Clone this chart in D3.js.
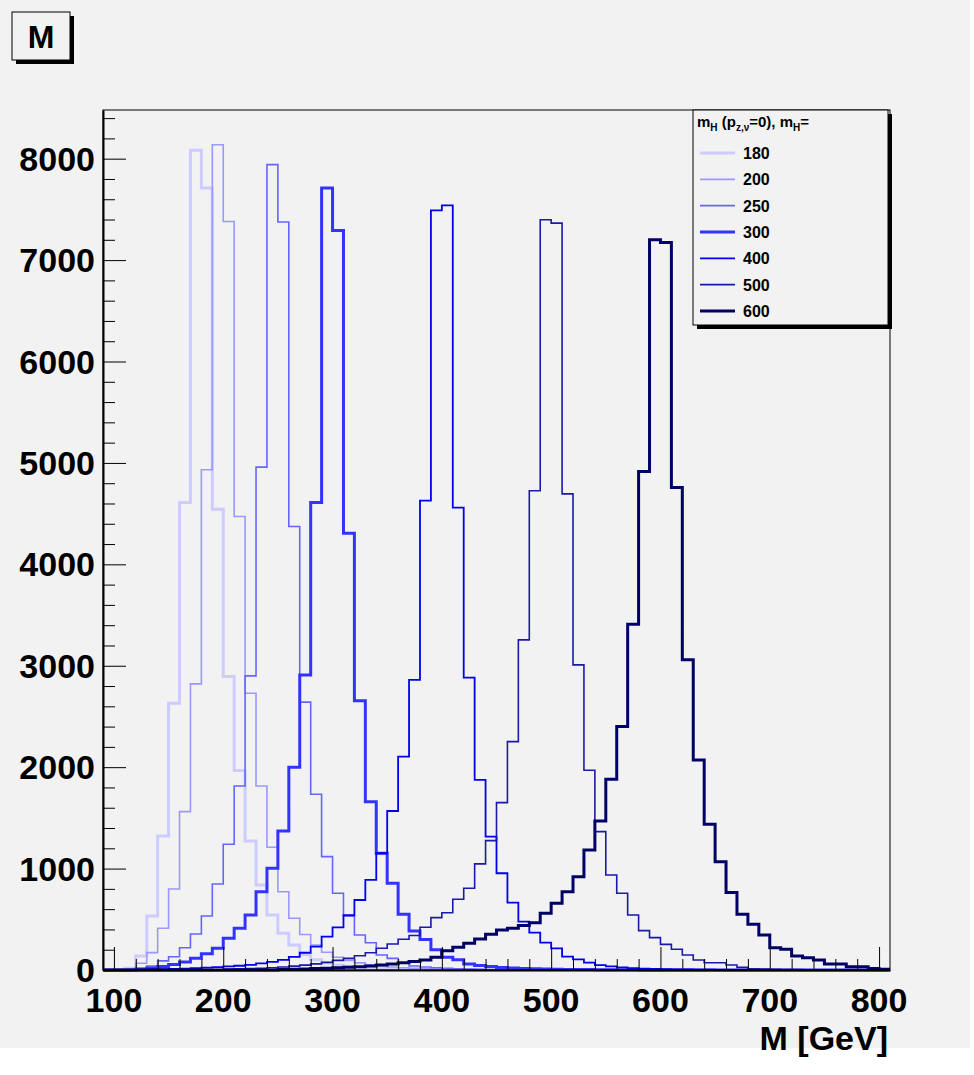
<!DOCTYPE html>
<html>
<head>
<meta charset="utf-8">
<script src="https://cdn.jsdelivr.net/npm/d3@7"></script>
<style>
  html, body { margin: 0; padding: 0; background: #ffffff; }
  svg { display: block; }
  text { font-family: "Liberation Sans", Arial, Helvetica, sans-serif; font-weight: bold; }
</style>
</head>
<body>
<svg id="chart" width="974" height="1075"></svg>
<script>
// Reconstructed invariant-mass distributions, 10 GeV bins.
// Each list starts at the bin whose lower edge is binStart and runs upward.
const binStart = 90;
const binWidth = 10;

const massLabels = ["180", "200", "250", "300", "400", "500", "600"];

const counts180 = [0, 0, 17, 138, 532, 1322, 2630, 4610, 8082, 7711, 4544, 2893, 1966, 1272, 838, 542, 362, 247, 150, 100, 70, 50, 38, 28, 20, 15, 11, 8, 6, 5, 4, 3, 2, 2, 1, 1, 1, 1, 0, 0, 0, 0, 0, 0, 0, 0, 0, 0, 0, 0, 0, 0, 0, 0, 0, 0, 0, 0, 0, 0, 0, 0, 0, 0, 0, 0, 0, 0, 0, 0, 0, 0];
const counts200 = [0, 0, 10, 66, 171, 411, 799, 1562, 2821, 4932, 8138, 7381, 4471, 2729, 1815, 1210, 772, 510, 350, 245, 175, 125, 95, 70, 52, 40, 30, 22, 17, 13, 10, 8, 6, 5, 4, 3, 2, 2, 1, 1, 1, 0, 0, 0, 0, 0, 0, 0, 0, 0, 0, 0, 0, 0, 0, 0, 0, 0, 0, 0, 0, 0, 0, 0, 0, 0, 0, 0, 0, 0, 0, 0];
const counts250 = [0, 0, 0, 15, 40, 90, 131, 220, 355, 533, 848, 1240, 1815, 2900, 4959, 7941, 7375, 4373, 2641, 1733, 1118, 757, 533, 345, 269, 148, 115, 66, 39, 30, 22, 16, 12, 9, 7, 5, 4, 3, 2, 2, 1, 1, 1, 0, 0, 0, 0, 0, 0, 0, 0, 0, 0, 0, 0, 0, 0, 0, 0, 0, 0, 0, 0, 0, 0, 0, 0, 0, 0, 0, 0, 0];
const counts300 = [0, 0, 0, 10, 20, 35, 55, 80, 115, 160, 214, 313, 411, 542, 772, 1003, 1371, 1999, 2910, 4610, 7711, 7293, 4307, 2656, 1660, 1151, 855, 550, 385, 300, 200, 125, 100, 60, 45, 35, 25, 20, 15, 12, 10, 8, 6, 5, 4, 3, 3, 2, 2, 1, 1, 1, 1, 0, 0, 0, 0, 0, 0, 0, 0, 0, 0, 0, 0, 0, 0, 0, 0, 0, 0, 0];
const counts400 = [0, 0, 0, 0, 5, 8, 10, 14, 18, 23, 28, 35, 42, 50, 65, 80, 100, 130, 170, 230, 330, 420, 540, 690, 888, 1151, 1568, 2104, 2861, 4629, 7490, 7539, 4560, 2883, 1874, 1315, 954, 664, 477, 368, 269, 214, 131, 105, 72, 49, 35, 25, 18, 13, 10, 8, 6, 5, 4, 3, 2, 2, 1, 1, 1, 0, 0, 0, 0, 0, 0, 0, 0, 0, 0, 0];
const counts500 = [0, 0, 0, 0, 0, 0, 0, 0, 0, 0, 0, 10, 12, 15, 18, 22, 30, 38, 48, 60, 75, 95, 115, 140, 170, 214, 256, 303, 340, 421, 516, 565, 697, 806, 1046, 1276, 1650, 2252, 3255, 4725, 7398, 7365, 4695, 3009, 1970, 1364, 937, 757, 542, 388, 319, 253, 204, 148, 99, 72, 72, 49, 26, 13, 10, 7, 5, 4, 3, 2, 2, 1, 1, 0, 0, 0];
const counts600 = [0, 0, 0, 0, 0, 0, 0, 0, 0, 0, 0, 0, 0, 0, 0, 0, 5, 8, 10, 14, 18, 22, 27, 33, 40, 50, 60, 72, 85, 99, 125, 191, 224, 263, 306, 352, 395, 411, 440, 467, 559, 658, 772, 920, 1184, 1470, 1881, 2400, 3410, 4915, 7201, 7174, 4757, 3058, 2071, 1437, 1068, 763, 549, 451, 345, 220, 204, 138, 121, 99, 59, 59, 33, 33, 16, 7];

const seriesCounts = [counts180, counts200, counts250, counts300, counts400, counts500, counts600];
const seriesColors = ["#ccccff", "#9999ff", "#6666ff", "#3333ff", "#0000ee", "#1a1aa6", "#000066"];
const seriesWidths = [3, 1.6, 1.6, 3, 1.8, 1.6, 3];

const xTicks = [100, 200, 300, 400, 500, 600, 700, 800];
const yTicks = [0, 1000, 2000, 3000, 4000, 5000, 6000, 7000, 8000];

const svg = d3.select("#chart");

// canvas background
svg.append("rect").attr("x", 0).attr("y", 0).attr("width", 970).attr("height", 1048).attr("fill", "#f2f2f2");

const frame = { left: 103, right: 890, top: 110, bottom: 970 };
const x = d3.scaleLinear().domain([90, 810]).range([frame.left, frame.right]);
const y = d3.scaleLinear().domain([0, 8480]).range([frame.bottom, frame.top]);

// histogram outlines
const plot = svg.append("g");
seriesCounts.forEach((vals, i) => {
  const pts = [];
  vals.forEach((v, k) => {
    const lo = binStart + k * binWidth;
    pts.push([x(lo), y(v)]);
    pts.push([x(lo + binWidth), y(v)]);
  });
  plot.append("path")
    .attr("d", d3.line()(pts))
    .attr("fill", "none")
    .attr("stroke", seriesColors[i])
    .attr("stroke-width", seriesWidths[i])
    .attr("stroke-linejoin", "miter");
});

// frame
svg.append("rect")
  .attr("x", frame.left).attr("y", frame.top)
  .attr("width", frame.right - frame.left).attr("height", frame.bottom - frame.top)
  .attr("fill", "none").attr("stroke", "#000").attr("stroke-width", 1);

// y axis: ticks drawn inward
const yAxis = d3.axisRight(y)
  .tickValues(d3.range(0, 8481, 200))
  .tickSize(0)
  .tickFormat("");
const gy = svg.append("g").attr("transform", `translate(${frame.left},0)`).call(yAxis);
gy.select(".domain").attr("stroke", "#000").attr("stroke-width", 2);
gy.selectAll(".tick line")
  .attr("x2", d => (d % 1000 === 0 ? 23 : 12))
  .attr("stroke", "#000").attr("stroke-width", 1);
svg.append("g").selectAll("text").data(yTicks).join("text")
  .attr("x", 95).attr("y", d => y(d) + 12)
  .attr("text-anchor", "end")
  .attr("font-size", 34)
  .attr("fill", "#000")
  .text(d => d);

// x axis: ticks drawn inward
const xAxis = d3.axisTop(x)
  .tickValues(d3.range(100, 801, 20))
  .tickSize(0)
  .tickFormat("");
const gx = svg.append("g").attr("transform", `translate(0,${frame.bottom})`).call(xAxis);
gx.select(".domain").attr("stroke", "#000").attr("stroke-width", 2);
gx.selectAll(".tick line")
  .attr("y2", d => (d % 100 === 0 ? -23 : -11))
  .attr("stroke", "#000").attr("stroke-width", 1);
svg.append("g").selectAll("text").data(xTicks).join("text")
  .attr("x", d => x(d))
  .attr("y", 1012)
  .attr("text-anchor", "middle")
  .attr("font-size", 34)
  .attr("fill", "#000")
  .text(d => d);

svg.append("text")
  .attr("x", 888).attr("y", 1050)
  .attr("text-anchor", "end")
  .attr("font-size", 34)
  .attr("fill", "#000")
  .text("M [GeV]");

// title box
svg.append("rect").attr("x", 16).attr("y", 16).attr("width", 58).attr("height", 48).attr("fill", "#000");
svg.append("rect").attr("x", 12).attr("y", 12).attr("width", 58).attr("height", 48)
  .attr("fill", "#f2f2f2").attr("stroke", "#000").attr("stroke-width", 1);
svg.append("text").attr("x", 41).attr("y", 48).attr("text-anchor", "middle")
  .attr("font-size", 32).attr("fill", "#000").text("M");

// legend
const lg = svg.append("g");
lg.append("rect").attr("x", 697).attr("y", 114).attr("width", 195).attr("height", 215).attr("fill", "#000");
lg.append("rect").attr("x", 693).attr("y", 110).attr("width", 195).attr("height", 215)
  .attr("fill", "#f2f2f2").attr("stroke", "#000").attr("stroke-width", 1);
const lt = lg.append("text").attr("x", 697).attr("y", 127).attr("font-size", 15).attr("fill", "#000");
lt.append("tspan").text("m");
lt.append("tspan").attr("font-size", 10).attr("dy", 4).text("H");
lt.append("tspan").attr("dy", -4).text(" (p");
lt.append("tspan").attr("font-size", 10).attr("dy", 4).text("z,ν");
lt.append("tspan").attr("dy", -4).text("=0), m");
lt.append("tspan").attr("font-size", 10).attr("dy", 4).text("H");
lt.append("tspan").attr("dy", -4).text("=");

const legendY = d3.scalePoint().domain(massLabels).range([153, 311]);
massLabels.forEach((m, i) => {
  const yy = legendY(m);
  lg.append("line").attr("x1", 700).attr("x2", 735).attr("y1", yy).attr("y2", yy)
    .attr("stroke", seriesColors[i]).attr("stroke-width", seriesWidths[i]);
  lg.append("text").attr("x", 743).attr("y", yy + 6).attr("font-size", 16).attr("fill", "#000").text(m);
});
</script>
</body>
</html>
